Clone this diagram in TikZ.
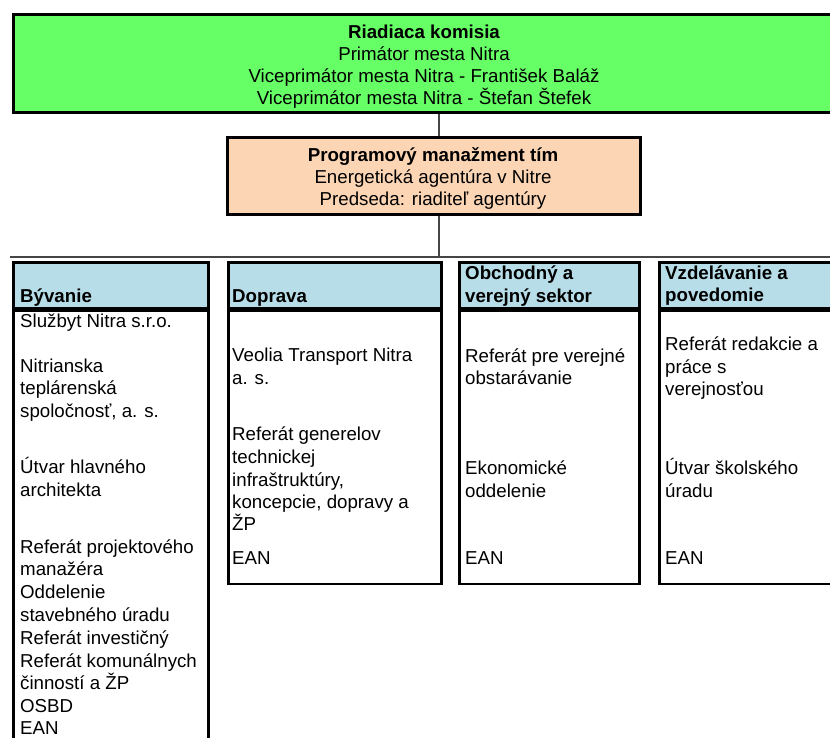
\documentclass[tikz,border=0pt]{standalone}
\usepackage{fontspec}
\setmainfont{Liberation Sans}
\usetikzlibrary{positioning}
\definecolor{Komisia}{HTML}{66FF66}
\definecolor{Tim}{HTML}{FCD5B4}
\definecolor{Hlavicka}{HTML}{B7DEE8}
\definecolor{Spoj}{HTML}{454545}
\tikzset{
  box/.style 2 args={draw=black,line width=2.6pt,inner sep=0pt,anchor=north west,
    minimum width=#1,minimum height=#2},
  txt/.style={inner sep=0pt,font=\fontsize{18.7}{22}\selectfont},
  riadok/.style={txt,anchor=base},
  nadpis/.style={riadok,font=\fontsize{18.7}{22}\selectfont\bfseries},
  item/.style={txt,anchor=base west},
  hlava/.style={item,font=\fontsize{18.7}{22}\selectfont\bfseries},
  spoj/.style={draw=Spoj,line width=1.4pt}
}
\begin{document}
\begin{tikzpicture}[x=1pt,y=-1pt]
  \useasboundingbox (0,0) rectangle (830,738);
  \clip (0,0) rectangle (830,738);
  \fill[white] (0,0) rectangle (830,738);

  \node[box={824pt}{98pt},fill=Komisia] (komisia) at (12,13) {};
  \node[box={413pt}{77pt},fill=Tim] (tim) at (226,136) {};

  \node[nadpis] (kom-1) at (424,39) {Riadiaca komisia};
  \node[riadok] (kom-2) at (424,61) {Primátor mesta Nitra};
  \node[riadok] (kom-3) at (424,83) {Viceprimátor mesta Nitra - František Baláž};
  \node[riadok] (kom-4) at (424,105) {Viceprimátor mesta Nitra - Štefan Štefek};
  \node[nadpis] (tim-1) at (433,162) {Programový manažment tím};
  \node[riadok] (tim-2) at (433,184) {Energetická agentúra v Nitre};
  \node[riadok] (tim-3) at (433,206) {Predseda: riaditeľ agentúry};

  \coordinate (kmen) at (439,0);
  \coordinate (busL) at (10,257);
  \coordinate (busR) at (830,257);
  \draw[spoj] (komisia.south -| kmen) -- (tim.north -| kmen);
  \draw[spoj] (tim.south -| kmen) -- (busL -| kmen);
  \draw[spoj,line width=1.1pt] (busL) -- (busR);

  \node[box={195pt}{46pt},fill=Hlavicka] (byvH) at (12,261) {};
  \node[box={195pt}{470pt}] (byv) at (byvH.south west) {};
  \node[box={213pt}{46pt},fill=Hlavicka] (dopH) at (227,261) {};
  \node[box={213pt}{273pt}] (dop) at (dopH.south west) {};
  \node[box={180pt}{46pt},fill=Hlavicka] (obchH) at (458,261) {};
  \node[box={180pt}{273pt}] (obch) at (obchH.south west) {};
  \node[box={200pt}{46pt},fill=Hlavicka] (vzdH) at (658,261) {};
  \node[box={200pt}{273pt}] (vzd) at (vzdH.south west) {};

  \node[hlava] (byvH-1) at (20,302) {Bývanie};
  \node[hlava] (dopH-1) at (232,302) {Doprava};
  \node[hlava] (obchH-1) at (465,279) {Obchodný a};
  \node[hlava] (obchH-2) at (465,302) {verejný sektor};
  \node[hlava] (vzdH-1) at (665,279) {Vzdelávanie a};
  \node[hlava] (vzdH-2) at (665,301) {povedomie};

  \foreach \y/\t [count=\i] in {327/Službyt Nitra s.r.o., 372/Nitrianska, 394/teplárenská,
      417/{spoločnosť, a. s.}, 473/Útvar hlavného, 496/architekta, 553/Referát projektového,
      575/manažéra, 598/Oddelenie, 621/stavebného úradu, 644/Referát investičný,
      667/Referát komunálnych, 689/činností a ŽP, 712/OSBD, 734/EAN}
    \node[item] (byv-\i) at (20,\y) {\t};
  \foreach \y/\t [count=\i] in {361/Veolia Transport Nitra, 384/a. s., 440/Referát generelov,
      463/technickej, 486/{infraštruktúry,}, 508/{koncepcie, dopravy a}, 530/ŽP, 564/EAN}
    \node[item] (dop-\i) at (232,\y) {\t};
  \foreach \y/\t [count=\i] in {362/Referát pre verejné, 384/obstarávanie, 474/Ekonomické,
      497/oddelenie, 564/EAN}
    \node[item] (obch-\i) at (465,\y) {\t};
  \foreach \y/\t [count=\i] in {350/Referát redakcie a, 373/práce s, 395/verejnosťou,
      474/Útvar školského, 497/úradu, 564/EAN}
    \node[item] (vzd-\i) at (665,\y) {\t};
\end{tikzpicture}
\end{document}
